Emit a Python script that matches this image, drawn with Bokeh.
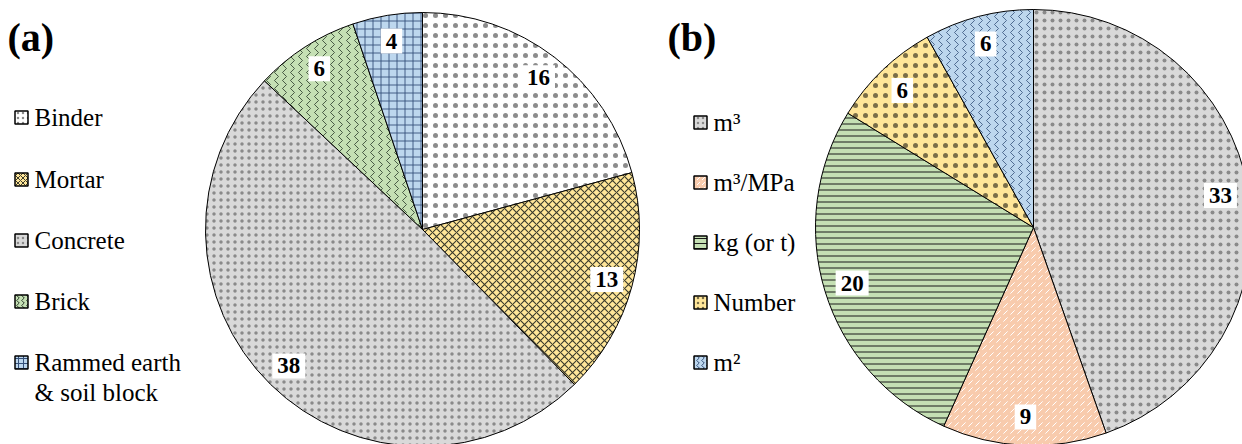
import math
from bokeh.plotting import figure
from bokeh.models import Range1d, ColumnDataSource
from bokeh.core.properties import value
from bokeh.embed import file_html
from bokeh.resources import INLINE

# ---------------- data ----------------
a_labels = ["Binder", "Mortar", "Concrete", "Brick", "Rammed earth\n& soil block"]
a_values = [16, 13, 38, 6, 4]
a_colors = ["#FFFFFF", "#FFE699", "#D9D9D9", "#C5E0B4", "#BDD7EE"]
a_hatch = ["dot", "diagonal_cross", "dot", "vertical_wave", "cross"]
a_hatch_color = ["#8C8C8C", "#3A3A2A", "#8A8A8A", "#2A3A2A", "#34507A"]
a_hatch_scale = [10, 8, 7, 8, 8]
a_hatch_weight = [0.5, 1.1, 0.5, 0.8, 0.9]

b_labels = ["m\u00b3", "m\u00b3/MPa", "kg (or t)", "Number", "m\u00b2"]
b_values = [33, 9, 20, 6, 6]
b_colors = ["#D9D9D9", "#F8CBAD", "#C5E0B4", "#FFE699", "#BDD7EE"]
b_hatch = ["dot", "right_diagonal_dash", "horizontal_line", "dot", "vertical_wave"]
b_hatch_color = ["#8A8A8A", "#FFFFFF", "#1A1A1A", "#7A6E48", "#34507A"]
b_hatch_scale = [8, 7, 6, 10, 8]
b_hatch_weight = [0.5, 1.0, 1.0, 0.5, 0.8]

W, H = 1242, 444
SERIF = "Liberation Serif"

p = figure(width=W, height=H, x_range=Range1d(0, W), y_range=Range1d(0, H),
           output_backend="svg", toolbar_location=None, min_border=0)
p.axis.visible = False
p.grid.visible = False
p.outline_line_color = None
p.background_fill_color = "white"


def ref(x, y):
    # page pixel position -> data coordinates (y up)
    return x, H - y


def pie(cx, cy, r, vals, colors, hatch, hcol, hscale, hweight, label_frac):
    total = float(sum(vals))
    starts, ends, lx, ly, txt = [], [], [], [], []
    cum = 0.0
    for v in vals:
        a0 = math.pi / 2 - 2 * math.pi * cum / total
        cum += v
        a1 = math.pi / 2 - 2 * math.pi * cum / total
        starts.append(a0)
        ends.append(a1)
        mid = (a0 + a1) / 2
        lx.append(cx + label_frac * r * math.cos(mid))
        ly.append(cy + label_frac * r * math.sin(mid))
        txt.append(str(v))
    src = ColumnDataSource(dict(start=starts, end=ends, color=colors, hatch=hatch,
                                hcol=hcol, hscale=hscale, hweight=hweight))
    p.wedge(x=cx, y=cy, radius=r, start_angle="start", end_angle="end",
            direction="clock", source=src, fill_color="color",
            hatch_pattern="hatch", hatch_color="hcol", hatch_scale="hscale",
            hatch_weight="hweight", line_color="black", line_width=1)
    lsrc = ColumnDataSource(dict(x=lx, y=ly, t=txt))
    p.text(x="x", y="y", text="t", source=lsrc, text_font=value(SERIF),
           text_font_style="bold", text_font_size="23px", text_color="black",
           text_align="center", text_baseline="middle",
           background_fill_color="white", padding=5)


def legend(x0, ys, labels, colors, hatch, hcol):
    n = len(labels)
    src = ColumnDataSource(dict(x=[x0] * n, y=ys, color=colors, hatch=hatch, hcol=hcol))
    p.rect(x="x", y="y", width=13, height=13, source=src, fill_color="color",
           hatch_pattern="hatch", hatch_color="hcol", hatch_scale=5, hatch_weight=1,
           line_color="black", line_width=1.5)
    tx, ty, tt = [], [], []
    for lab, y in zip(labels, ys):
        for k, line in enumerate(lab.split("\n")):
            tx.append(x0 + 13)
            ty.append(y - 30 * k)
            tt.append(line)
    tsrc = ColumnDataSource(dict(x=tx, y=ty, t=tt))
    p.text(x="x", y="y", text="t", source=tsrc, text_font=value(SERIF),
           text_font_size="25px", text_color="black", text_align="left",
           text_baseline="middle")


# pie (a)
cxa, cya = ref(422, 229)
pie(cxa, cya, 217, a_values, a_colors, a_hatch, a_hatch_color, a_hatch_scale,
    a_hatch_weight, 0.88)
# pie (b)
cxb, cyb = ref(1033, 227)
pie(cxb, cyb, 218, b_values, b_colors, b_hatch, b_hatch_color, b_hatch_scale,
    b_hatch_weight, 0.87)

# legends
lx_a, _ = ref(21, 0)
ys_a = [ref(0, yy)[1] for yy in (117, 179, 240, 301, 362)]
legend(lx_a, ys_a, a_labels, a_colors, a_hatch, a_hatch_color)
lx_b, _ = ref(700, 0)
ys_b = [ref(0, yy)[1] for yy in (122, 182, 242, 302, 362)]
legend(lx_b, ys_b, b_labels, b_colors, b_hatch, b_hatch_color)

# panel tags
tags = ["(a)", "(b)"]
tx = [ref(7, 0)[0], ref(667, 0)[0]]
ty = [ref(0, 37)[1]] * 2
p.text(x=tx, y=ty, text=tags, text_font=value(SERIF), text_font_style="bold",
       text_font_size="40px", text_color="black", text_align="left",
       text_baseline="middle")

open("out.html", "w").write(file_html(p, INLINE))
